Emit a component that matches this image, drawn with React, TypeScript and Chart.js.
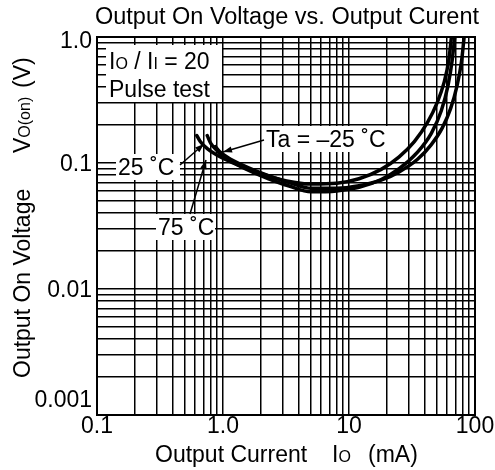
import React, { useEffect, useRef } from 'react';
import { Chart, registerables } from 'chart.js';

Chart.register(...registerables);

const FONT = '"Liberation Sans", Arial, Helvetica, sans-serif';

// Axis ranges and labelled ticks
const xMajorTicks = [0.1, 1, 10, 100];
const xTickLabels = ['0.1', '1.0', '10', '100'];
const yMajorTicks = [0.001, 0.01, 0.1, 1];
const yTickLabels = ['0.001', '0.01', '0.1', '1.0'];
const gridMantissas = [1, 2, 3, 4, 5, 6, 7, 8, 9];

// Series: Ta = 25 °C
const io25 = [0.62, 0.66, 0.75, 0.9, 1.2, 1.6, 2.2, 3.2, 5, 8, 12, 18, 25, 33, 42, 50, 57, 62, 65];
const vo25 = [0.165, 0.148, 0.13, 0.115, 0.1, 0.089, 0.08, 0.072, 0.068, 0.069, 0.075, 0.089, 0.112, 0.148, 0.21, 0.3, 0.44, 0.66, 1.0];
// Series: Ta = 75 °C
const io75 = [0.75, 0.8, 0.9, 1.05, 1.3, 1.7, 2.3, 3.3, 5, 8, 12, 18, 25, 35, 45, 54, 61, 66, 69];
const vo75 = [0.165, 0.143, 0.125, 0.11, 0.097, 0.085, 0.075, 0.066, 0.059, 0.06, 0.064, 0.074, 0.09, 0.122, 0.172, 0.26, 0.41, 0.66, 1.0];
// Series: Ta = -25 °C
const ioM25 = [0.87, 0.95, 1.1, 1.4, 1.8, 2.5, 3.5, 5, 8, 12, 18, 25, 35, 45, 55, 64, 72, 78, 82];
const voM25 = [0.135, 0.122, 0.11, 0.097, 0.087, 0.077, 0.069, 0.063, 0.063, 0.066, 0.073, 0.085, 0.107, 0.14, 0.19, 0.27, 0.41, 0.63, 1.0];

function gridValues(majors: number[]) {
  const out: number[] = [];
  for (let i = 0; i < majors.length - 1; i++) {
    for (const m of gridMantissas) out.push(majors[i] * m);
  }
  out.push(majors[majors.length - 1]);
  return out;
}

type Seg = [string, number];
function drawSegs(ctx: CanvasRenderingContext2D, segs: Seg[], x: number, y: number) {
  let cx = x;
  for (const [t, s] of segs) {
    ctx.font = `${s}px ${FONT}`;
    ctx.fillText(t, cx, y);
    cx += ctx.measureText(t).width;
  }
}

function arrow(ctx: CanvasRenderingContext2D, x1: number, y1: number, x2: number, y2: number) {
  ctx.beginPath();
  ctx.moveTo(x1, y1);
  ctx.lineTo(x2, y2);
  ctx.stroke();
  const a = Math.atan2(y2 - y1, x2 - x1);
  const L = 9, W = 3.2;
  ctx.beginPath();
  ctx.moveTo(x2, y2);
  ctx.lineTo(x2 - L * Math.cos(a) + W * Math.sin(a), y2 - L * Math.sin(a) - W * Math.cos(a));
  ctx.lineTo(x2 - L * Math.cos(a) - W * Math.sin(a), y2 - L * Math.sin(a) + W * Math.cos(a));
  ctx.closePath();
  ctx.fill();
}

const boxesPlugin = {
  id: 'boxes',
  beforeDatasetsDraw(chart: any) {
    const ctx: CanvasRenderingContext2D = chart.ctx;
    ctx.save();
    ctx.fillStyle = '#fff';
    ctx.fillRect(106, 45, 116, 57);
    ctx.fillRect(116, 154, 64, 26);
    ctx.fillRect(156, 214, 59, 26);
    ctx.fillRect(262, 126, 134, 26);
    ctx.fillStyle = '#000';
    ctx.textAlign = 'left';
    ctx.textBaseline = 'alphabetic';
    drawSegs(ctx, [['I', 23], ['O', 16], [' / I', 23], ['I', 16], [' = 20', 23]], 109, 69);
    drawSegs(ctx, [['Pulse test', 23]], 109, 97);
    drawSegs(ctx, [['25 \u02DAC', 23]], 118, 175);
    drawSegs(ctx, [['75 \u02DAC', 23]], 158, 235);
    drawSegs(ctx, [['Ta = \u201325 \u02DAC', 23]], 266, 147);
    ctx.restore();
  },
  afterDraw(chart: any) {
    const ctx: CanvasRenderingContext2D = chart.ctx;
    const { left, right, top, bottom } = chart.chartArea;
    const xs = chart.scales.x, ys = chart.scales.y;
    ctx.save();
    ctx.strokeStyle = '#000';
    ctx.fillStyle = '#000';
    ctx.lineWidth = 2;
    ctx.strokeRect(left, top, right - left, bottom - top);
    // leaders
    ctx.lineWidth = 1.5;
    arrow(ctx, 264, 140, 223, 152);
    arrow(ctx, 180, 165, 204, 144);
    arrow(ctx, 190, 214, 206, 160);
    // tick labels
    ctx.font = `23px ${FONT}`;
    ctx.textBaseline = 'alphabetic';
    ctx.textAlign = 'center';
    xMajorTicks.forEach((v, i) => {
      ctx.fillText(xTickLabels[i], xs.getPixelForValue(v), bottom + 18);
    });
    ctx.textAlign = 'right';
    yMajorTicks.forEach((v, i) => {
      let c = ys.getPixelForValue(v);
      c = Math.min(Math.max(c, top + 3), bottom - 16);
      ctx.fillText(yTickLabels[i], left - 5, c + 8);
    });
    // title
    ctx.textAlign = 'center';
    ctx.font = `23.5px ${FONT}`;
    ctx.fillText('Output On Voltage vs. Output Curent', (left + right) / 2 + 1, 24);
    // x axis title
    ctx.textAlign = 'left';
    drawSegs(ctx, [['Output Current', 23]], 155, 462);
    drawSegs(ctx, [['I', 23], ['O', 16]], 332, 462);
    drawSegs(ctx, [['(mA)', 23]], 368, 462);
    // y axis title
    ctx.translate(30, 378);
    ctx.rotate(-Math.PI / 2);
    drawSegs(ctx, [['Output On Voltage', 23]], 0, 0);
    drawSegs(ctx, [['V', 23], ['O(on)', 16]], 225, 0);
    drawSegs(ctx, [['(V)', 23]], 290, 0);
    ctx.restore();
  },
};

export default function App() {
  const ref = useRef<HTMLCanvasElement>(null);
  useEffect(() => {
    if (!ref.current) return;
    const mk = (xs: number[], ys: number[], label: string) => ({
      label,
      data: xs.map((x, i) => ({ x, y: ys[i] })),
      borderColor: '#000',
      borderWidth: 3.5,
      pointRadius: 0,
      fill: false,
      cubicInterpolationMode: 'monotone' as const,
      borderJoinStyle: 'round' as const,
      borderCapStyle: 'round' as const,
    });
    const xGrid = gridValues(xMajorTicks);
    const yGrid = gridValues(yMajorTicks);
    const chart = new Chart(ref.current, {
      type: 'line',
      data: {
        datasets: [
          mk(io25, vo25, '25 °C'),
          mk(io75, vo75, '75 °C'),
          mk(ioM25, voM25, '-25 °C'),
        ],
      },
      options: {
        animation: false,
        responsive: false,
        devicePixelRatio: 1,
        events: [],
        layout: { padding: { top: 37, right: 20, left: 0, bottom: 0 } },
        plugins: { legend: { display: false }, title: { display: false }, tooltip: { enabled: false } },
        scales: {
          x: {
            type: 'logarithmic',
            min: 0.1,
            max: 100,
            ticks: { display: false },
            grid: { color: '#000', lineWidth: 1.5, drawTicks: false },
            border: { display: false },
            afterBuildTicks: (s: any) => { s.ticks = xGrid.map((v) => ({ value: v })); },
            afterFit: (s: any) => { s.height = 55; },
          },
          y: {
            type: 'logarithmic',
            min: 0.001,
            max: 1,
            ticks: { display: false },
            grid: { color: '#000', lineWidth: 1.5, drawTicks: false },
            border: { display: false },
            afterBuildTicks: (s: any) => { s.ticks = yGrid.map((v) => ({ value: v })); },
            afterFit: (s: any) => { s.width = 97; },
          },
        },
      },
      plugins: [boxesPlugin],
    });
    return () => chart.destroy();
  }, []);
  return (
    <div style={{ position: 'fixed', left: 0, top: 0, width: 495, height: 470, background: '#fff' }}>
      <canvas ref={ref} width={495} height={470} />
    </div>
  );
}
